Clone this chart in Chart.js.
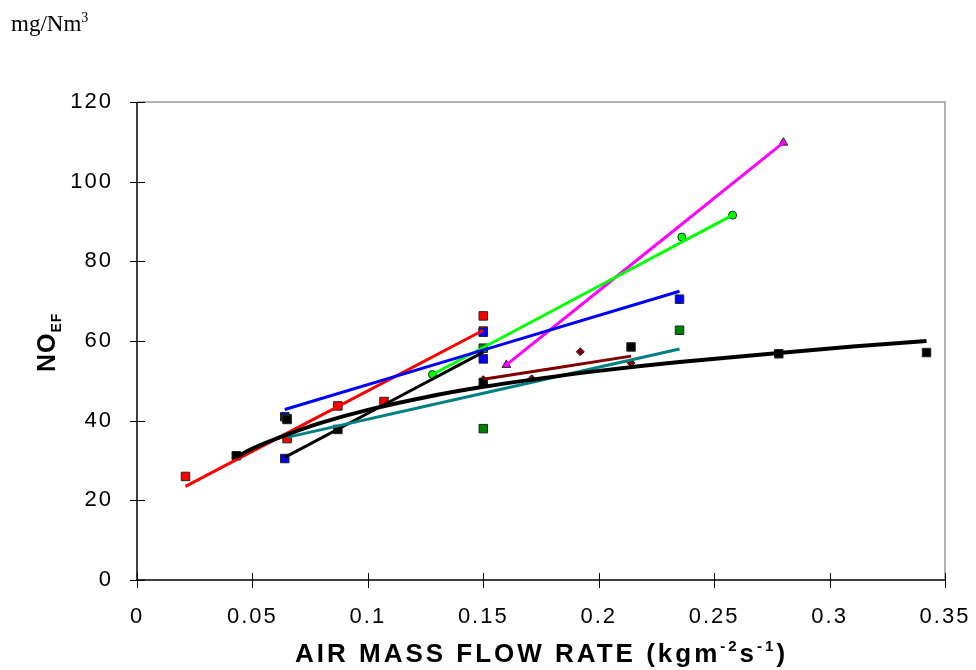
<!DOCTYPE html>
<html>
<head>
<meta charset="utf-8">
<script src="https://cdn.jsdelivr.net/npm/chart.js@4.4.1/dist/chart.umd.min.js"></script>
<style>
  html, body { margin: 0; padding: 0; background: #fff; }
  #wrap { width: 976px; height: 670px; position: relative; }
</style>
</head>
<body>
<div id="wrap"><canvas id="noChart" width="976" height="670"></canvas></div>
<script>
// axis ticks
const xTicks = [0, 0.05, 0.1, 0.15, 0.2, 0.25, 0.3, 0.35];
const yTicks = [0, 20, 40, 60, 80, 100, 120];

const redX = [0.021, 0.065, 0.087, 0.107, 0.15, 0.15];
const redY = [26, 35.5, 43.7, 44.8, 66.3, 62.5];
const blueX = [0.064, 0.064, 0.15, 0.15, 0.235];
const blueY = [41, 30.5, 62.2, 55.5, 70.5];
const greenX = [0.065, 0.15, 0.15, 0.235];
const greenY = [40.5, 58.2, 38, 62.7];
const blackX = [0.043, 0.065, 0.087, 0.15, 0.214, 0.278, 0.342];
const blackY = [31.2, 40.3, 37.8, 49.6, 58.5, 56.8, 57.1];
const maroonX = [0.15, 0.171, 0.192, 0.214];
const maroonY = [50.3, 50.5, 57.3, 54.5];
const limeX = [0.128, 0.236, 0.258];
const limeY = [51.6, 86.1, 91.6];
const magentaX = [0.16, 0.28];
const magentaY = [54, 109.8];

// fitted lines (end points)
const redFitX = [0.021, 0.15], redFitY = [23.5, 62.7];
const blueFitX = [0.064, 0.235], blueFitY = [42.8, 72.5];
const tealFitX = [0.065, 0.235], tealFitY = [35.8, 58];
const blackFitX = [0.064, 0.15], blackFitY = [30.8, 57.2];
const maroonFitX = [0.15, 0.214], maroonFitY = [50.4, 56.2];
const limeFitX = [0.128, 0.258], limeFitY = [51.6, 91.6];
const magentaFitX = [0.16, 0.28], magentaFitY = [54, 109.8];

// overall trend curve, read along its path
const curveX = [0.043, 0.05, 0.065, 0.08, 0.1, 0.125, 0.15, 0.175, 0.2, 0.235, 0.278, 0.31, 0.342];
const curveY = [30.8, 33, 36.5, 39.5, 42.7, 45.9, 48.5, 50.6, 52.5, 54.7, 57, 58.6, 60];

function pts(xs, ys) {
  return xs.map((x, i) => ({ x: x, y: ys[i] }));
}

function markers(xs, ys, color, style, r) {
  return {
    data: pts(xs, ys),
    showLine: false,
    pointStyle: style,
    pointRadius: r,
    pointBackgroundColor: color,
    pointBorderColor: "#222",
    pointBorderWidth: 1
  };
}

function fitLine(xs, ys, color, w) {
  return {
    data: pts(xs, ys),
    showLine: true,
    borderColor: color,
    borderWidth: w,
    pointRadius: 0,
    fill: false
  };
}

// draws frame, crossing tick marks and the axis titles
const decorPlugin = {
  id: "decor",
  beforeDraw(chart) {
    chart.ctx.letterSpacing = "2px";
  },
  afterDraw(chart) {
    const ctx = chart.ctx;
    const a = chart.chartArea;
    const xs = chart.scales.x, ys = chart.scales.y;
    ctx.save();
    ctx.letterSpacing = "0px";
    // gray top / right frame
    ctx.strokeStyle = "#999";
    ctx.lineWidth = 1.5;
    ctx.beginPath();
    ctx.moveTo(a.left, a.top);
    ctx.lineTo(a.right, a.top);
    ctx.lineTo(a.right, a.bottom);
    ctx.stroke();
    // tick marks crossing the axes
    ctx.strokeStyle = "#000";
    ctx.lineWidth = 1;
    ctx.beginPath();
    yTicks.forEach(v => {
      const py = Math.round(ys.getPixelForValue(v)) + 0.5;
      ctx.moveTo(a.left - 7, py);
      ctx.lineTo(a.left + 8, py);
    });
    xTicks.forEach(v => {
      const px = Math.round(xs.getPixelForValue(v)) + 0.5;
      ctx.moveTo(px, a.bottom - 7);
      ctx.lineTo(px, a.bottom + 8);
    });
    ctx.stroke();
    // axis lines
    ctx.lineWidth = 1.5;
    ctx.beginPath();
    ctx.moveTo(a.left, a.top);
    ctx.lineTo(a.left, a.bottom);
    ctx.lineTo(a.right, a.bottom);
    ctx.stroke();

    ctx.fillStyle = "#000";
    ctx.textBaseline = "alphabetic";
    // unit label top-left
    ctx.font = "23px 'Liberation Serif'";
    ctx.textAlign = "left";
    ctx.fillText("mg/Nm", 11, 31);
    const w0 = ctx.measureText("mg/Nm").width;
    ctx.font = "14px 'Liberation Serif'";
    ctx.fillText("3", 11 + w0, 22);

    // x title with superscripts
    ctx.letterSpacing = "3px";
    const parts = [
      ["AIR MASS FLOW RATE (kgm", 0, "bold 26px 'Liberation Sans'"],
      ["-2", -11, "bold 15px 'Liberation Sans'"],
      ["s", 0, "bold 26px 'Liberation Sans'"],
      ["-1", -11, "bold 15px 'Liberation Sans'"],
      [")", 0, "bold 26px 'Liberation Sans'"]
    ];
    let cx = 295;
    parts.forEach(p => {
      ctx.font = p[2];
      ctx.fillText(p[0], cx, 662 + p[1]);
      cx += ctx.measureText(p[0]).width;
    });

    // y title NO with EF subscript, rotated
    ctx.translate(55, 0);
    ctx.rotate(-Math.PI / 2);
    ctx.letterSpacing = "1px";
    ctx.font = "bold 25px 'Liberation Sans'";
    const wNO = ctx.measureText("NO").width;
    const sx = -372;
    ctx.fillText("NO", sx, 0);
    ctx.font = "bold 14px 'Liberation Sans'";
    ctx.fillText("EF", sx + wNO, 6);
    ctx.restore();
  }
};

const ctx = document.getElementById("noChart").getContext("2d");
const chart = new Chart(ctx, {
  type: "scatter",
  data: {
    datasets: [
      fitLine(curveX, curveY, "#000", 4),
      fitLine(tealFitX, tealFitY, "#008080", 3),
      fitLine(blackFitX, blackFitY, "#000", 3),
      fitLine(maroonFitX, maroonFitY, "#800000", 3),
      fitLine(blueFitX, blueFitY, "#0000ff", 3),
      fitLine(redFitX, redFitY, "#ff0000", 3),
      fitLine(limeFitX, limeFitY, "#00ff00", 3),
      fitLine(magentaFitX, magentaFitY, "#ff00ff", 3),
      markers(blackX, blackY, "#000", "rect", 6),
      markers(greenX, greenY, "#008000", "rect", 6),
      markers(blueX, blueY, "#0000ff", "rect", 6),
      markers(redX, redY, "#ff0000", "rect", 6),
      markers(maroonX, maroonY, "#800000", "rectRot", 4),
      markers(limeX, limeY, "#00ff00", "circle", 4),
      markers(magentaX, magentaY, "#ff00ff", "triangle", 5)
    ]
  },
  options: {
    responsive: false,
    animation: false,
    layout: { padding: { top: 102, right: 31, left: 0, bottom: 0 } },
    plugins: {
      legend: { display: false },
      tooltip: { enabled: false }
    },
    elements: { line: { tension: 0.4 } },
    scales: {
      x: {
        type: "linear",
        min: 0,
        max: 0.35,
        afterBuildTicks: s => { s.ticks = xTicks.map(v => ({ value: v })); },
        afterFit: s => { s.height = 90; s.paddingLeft = 0; s.paddingRight = 0; },
        grid: { display: false, drawTicks: false },
        border: { display: false },
        ticks: {
          color: "#000",
          padding: 24,
          maxRotation: 0,
          font: { family: "'Liberation Sans'", size: 22 },
          callback: v => String(v)
        }
      },
      y: {
        type: "linear",
        min: 0,
        max: 120,
        afterBuildTicks: s => { s.ticks = yTicks.map(v => ({ value: v })); },
        afterFit: s => { s.width = 137; s.paddingTop = 0; s.paddingBottom = 0; },
        grid: { display: false, drawTicks: false },
        border: { display: false },
        ticks: {
          color: "#000",
          padding: 24,
          font: { family: "'Liberation Sans'", size: 22 }
        }
      }
    }
  },
  plugins: [decorPlugin]
});
</script>
</body>
</html>
